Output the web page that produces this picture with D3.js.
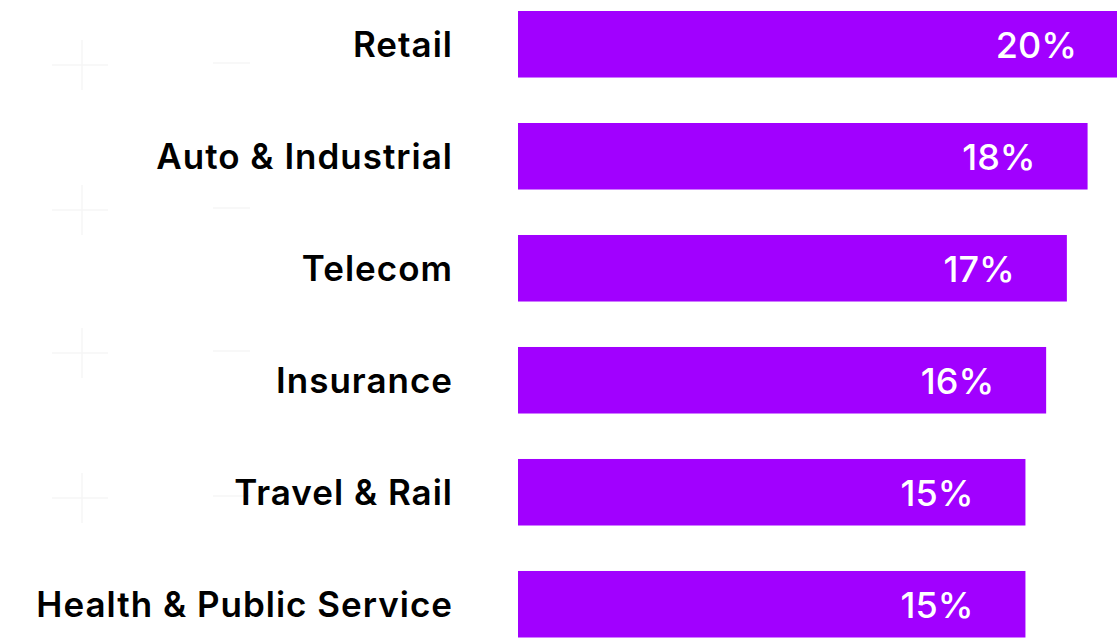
<!DOCTYPE html>
<html><head><meta charset="utf-8">
<script src="https://cdn.jsdelivr.net/npm/d3@7"></script>
<style>html,body{margin:0;padding:0;background:#fff;overflow:hidden}</style>
</head><body>
<svg id="chart" width="1117" height="638"></svg>
<script>
const categories = ["Retail","Auto & Industrial","Telecom","Insurance","Travel & Rail","Health & Public Service"];
const values = [20, 18, 17, 16, 15, 15];
const valueLabels = ["20%","18%","17%","16%","15%","15%"];

const svg = d3.select("#chart");

// faint decorative marks
const deco = svg.append("g").attr("stroke","#f6f6f6").attr("stroke-width",1.5);
[65, 210, 353, 498].forEach(cy => {
  deco.append("line").attr("x1",52).attr("x2",108).attr("y1",cy).attr("y2",cy);
  deco.append("line").attr("x1",82).attr("x2",82).attr("y1",cy-25).attr("y2",cy+25);
  deco.append("line").attr("x1",213).attr("x2",250).attr("y1",cy-2).attr("y2",cy-2);
});

const y = d3.scaleBand().domain(categories).range([11, 637.5]).paddingInner(0.406).paddingOuter(0);
const x = d3.scaleLinear().domain([-9.5, 20]).range([518, 1129]);
const bw = y.bandwidth();

const g = svg.append("g");
g.selectAll("rect.bar").data(categories).join("rect")
  .attr("class","bar")
  .attr("x", x(-9.5))
  .attr("y", d => y(d))
  .attr("height", bw)
  .attr("width", (d,i) => x(values[i]) - x(-9.5))
  .attr("fill", "#A100FF");

g.selectAll("text.cat").data(categories).join("text")
  .attr("class","cat")
  .attr("x", 453)
  .attr("y", d => y(d) + bw/2 + 13)
  .attr("text-anchor","end")
  .attr("font-family","Inter, 'Noto Sans', sans-serif")
  .attr("font-weight",600)
  .attr("font-size",35)
  .attr("letter-spacing","1px")
  .attr("fill","#000")
  .text(d => d);

g.selectAll("text.val").data(categories).join("text")
  .attr("class","val")
  .attr("x", (d,i) => x(values[i]) - 52)
  .attr("y", d => y(d) + bw/2 + 13.5)
  .attr("text-anchor","end")
  .attr("font-family","Inter, 'Noto Sans', sans-serif")
  .attr("font-weight",500)
  .attr("font-size",36)
  .attr("fill","#fff")
  .text((d,i) => valueLabels[i]);
</script>
</body></html>
